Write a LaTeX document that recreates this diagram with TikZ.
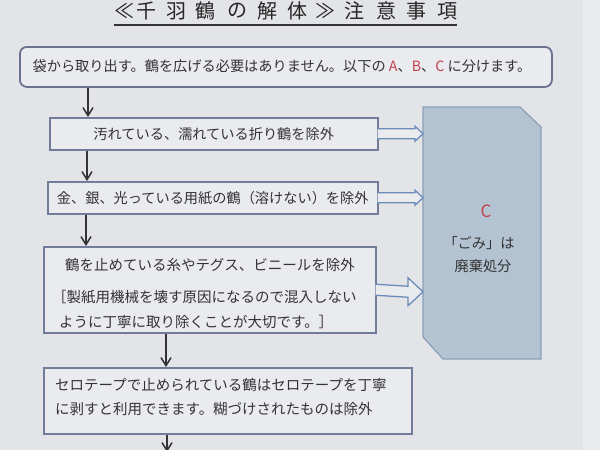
\documentclass[tikz,border=0pt]{standalone}
\usepackage{fontspec}
\setmainfont{Noto Sans CJK JP}
\usetikzlibrary{arrows.meta}
\definecolor{bg}{HTML}{E3E4E8}
\definecolor{paperedge}{HTML}{EAEBEE}
\definecolor{boxfill}{HTML}{EAEBEF}
\definecolor{boxline}{HTML}{717C9A}
\definecolor{roundline}{HTML}{6B7190}
\definecolor{cfill}{HTML}{B3C3D2}
\definecolor{cline}{HTML}{8AA0B8}
\definecolor{harrow}{HTML}{6A8CB8}
\definecolor{ink}{HTML}{333333}
\definecolor{redtxt}{HTML}{C2404F}
\newcommand\hollowarrow[5]{%
  \fill[boxfill] ([xshift=-0.9pt,yshift=#3]#1.east) -- ([yshift=#3,xshift=-#5]#2) -- ([yshift=#4,xshift=-#5]#2) -- (#2) -- ([yshift=-#4,xshift=-#5]#2) -- ([yshift=-#3,xshift=-#5]#2) -- ([xshift=-0.9pt,yshift=-#3]#1.east) -- cycle;
  \draw[harr] ([xshift=-0.7pt,yshift=#3]#1.east) -- ([yshift=#3,xshift=-#5]#2) -- ([yshift=#4,xshift=-#5]#2) -- (#2) -- ([yshift=-#4,xshift=-#5]#2) -- ([yshift=-#3,xshift=-#5]#2) -- ([xshift=-0.7pt,yshift=-#3]#1.east);}
\begin{document}
\begin{tikzpicture}[x=1pt,y=-1pt,
  font=\fontsize{14.2pt}{17pt}\selectfont, text=ink,
  box/.style={draw=boxline, fill=boxfill, line width=1.5pt, inner sep=0pt, anchor=north west},
  varrow/.style={draw=ink, line width=1.5pt, -{Straight Barb[length=8pt,width=10pt,line width=1.5pt]}},
  harr/.style={draw=harrow, line width=1.3pt, line join=miter},
  lbl/.style={inner sep=0pt},
  biglbl/.style={inner sep=0pt, font=\fontsize{14.5pt}{17pt}\selectfont},
  ttl/.style={inner sep=0pt, font=\fontsize{20pt}{22pt}\selectfont, text=black!85}]

\useasboundingbox (0,0) rectangle (600,450);
\fill[bg] (0,0) rectangle (600,450);
\fill[paperedge] (583,0) rectangle (600,450);

% title
\foreach \ch/\x [count=\i] in {≪/124,千/146,羽/176,鶴/205,の/237,解/267,体/297,≫/325,注/354,意/386,事/416,項/447}
  \node[ttl] (t\i) at (\x,11) {\ch};
\coordinate (ul) at (0,25);
\draw[line width=1.6pt, black!80] (t1.west |- ul) -- (t12.east |- ul);

% box 1
\node[box, draw=roundline, rounded corners=7pt, line width=1.8pt, minimum width=532pt, minimum height=40pt] (b1) at (19,46) {};
\node[lbl] (b1t) at (282,66) {袋から取り出す。鶴を広げる必要はありません。以下の {\color{redtxt}A}、{\color{redtxt}B}、{\color{redtxt}C} に分けます。};

% box 2
\node[box, minimum width=328pt, minimum height=32pt] (b2) at (49,117) {};
\node[lbl] (b2t) at (b2.center) {汚れている、濡れている折り鶴を除外};

% box 3
\node[box, minimum width=330pt, minimum height=32pt] (b3) at (47,181) {};
\node[lbl] (b3t) at (b3.center) {金、銀、光っている用紙の鶴（溶けない）を除外};

% box 4
\node[box, minimum width=332pt, minimum height=86pt] (b4) at (43,246) {};
\node[biglbl] (b4t1) at (210,265) {鶴を止めている糸やテグス、ビニールを除外};
\node[biglbl, anchor=west] (b4t2) at (52,297) {［製紙用機械を壊す原因になるので混入しない};
\node[biglbl, anchor=west] (b4t3) at (59,322) {ように丁寧に取り除くことが大切です。］};

% box 5
\node[box, minimum width=368pt, minimum height=66pt] (b5) at (43,367) {};
\node[biglbl, anchor=west] (b5t1) at (55,385) {セロテープで止められている鶴はセロテープを丁寧};
\node[biglbl, anchor=west] (b5t2) at (55,409) {に剥すと利用できます。糊づけされたものは除外};

% C box
\coordinate (c1) at (423,107);
\coordinate (c2) at (520,107);
\coordinate (c3) at (541,127);
\coordinate (c4) at (541,359);
\coordinate (c5) at (443,359);
\coordinate (c6) at (423,337);
\draw[fill=cfill, draw=cline, line width=1.2pt] (c1) -- (c2) -- (c3) -- (c4) -- (c5) -- (c6) -- cycle;
\node[inner sep=0pt, font=\fontsize{17pt}{20pt}\selectfont, text=redtxt] (cC) at (486,211) {C};
\node[lbl] (cg) at (479,243) {「ごみ」は};
\node[lbl] (ch) at (483,266) {廃棄処分};

% hollow arrows
\coordinate (tip1) at (b2.east -| c1);
\coordinate (tip2) at (b3.east -| c1);
\coordinate (tip3) at ([yshift=-2pt]b4.east -| c1);
\hollowarrow{b2}{tip1}{5pt}{7.5pt}{8pt}
\hollowarrow{b3}{tip2}{5pt}{7.5pt}{8pt}
\hollowarrow{b4}{tip3}{5.5pt}{14pt}{15pt}

% vertical arrows
\coordinate (ax1) at (88,0);
\coordinate (ax2) at (87,0);
\coordinate (ax3) at (86,0);
\coordinate (ax4) at (166,0);
\coordinate (ax5) at (167,0);
\coordinate (bend) at (167,452);
\draw[varrow] (b1.south -| ax1) -- (b2.north -| ax1);
\draw[varrow] (b2.south -| ax2) -- (b3.north -| ax2);
\draw[varrow] (b3.south -| ax3) -- (b4.north -| ax3);
\draw[varrow] (b4.south -| ax4) -- (b5.north -| ax4);
\draw[varrow] (b5.south -| ax5) -- (bend);
\end{tikzpicture}
\end{document}
